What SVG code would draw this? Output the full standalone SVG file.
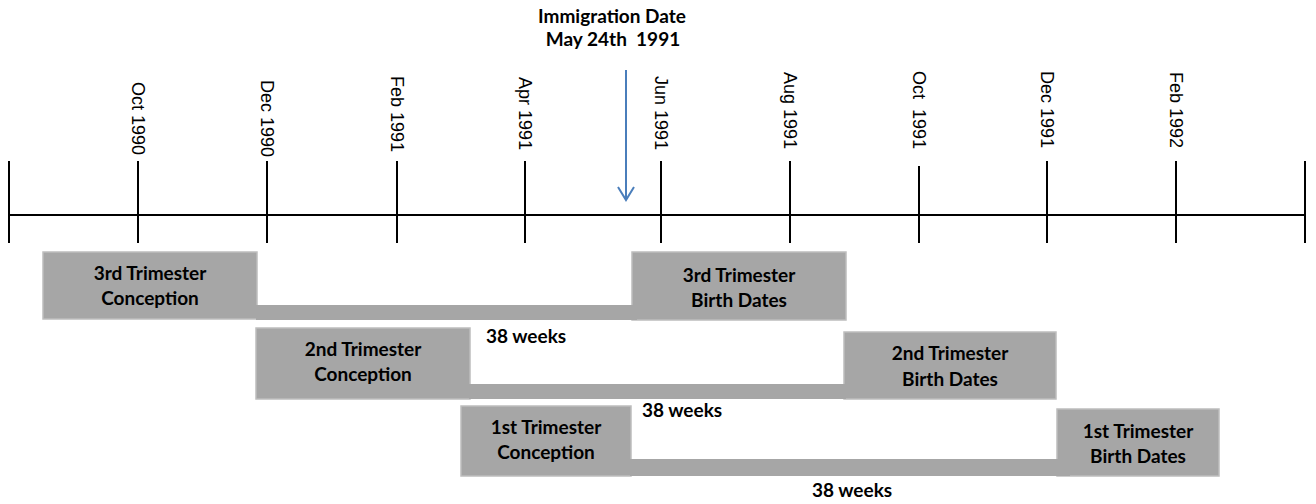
<svg xmlns="http://www.w3.org/2000/svg" width="1316" height="504" viewBox="0 0 1316 504">
<style>
  .axis { stroke: #000; stroke-width: 2; fill: none; }
  .tick { stroke: #000; stroke-width: 2; }
  .month { font-family: "Liberation Sans", Arial, sans-serif; font-size: 18px; fill: #000; }
  .box { fill: #A6A6A6; stroke: #BDBDBD; stroke-width: 1.5; }
  .bar { fill: #A6A6A6; stroke: none; }
  .lbl { font-family: Lato, "Liberation Sans", sans-serif; font-weight: bold; font-size: 19px; fill: #000; text-anchor: middle; }
  .wk { font-family: Lato, "Liberation Sans", sans-serif; font-weight: bold; font-size: 19px; fill: #000; }
  .arrow { stroke: #4A7EBB; stroke-width: 2; fill: none; }
</style>
<rect width="1316" height="504" fill="#fff"/>

<g id="timeline">
  <line class="axis" x1="9" y1="215" x2="1305" y2="215"/>
  <line class="tick" x1="9" y1="161" x2="9" y2="243"/>
  <line class="tick" x1="138" y1="161" x2="138" y2="243"/>
  <line class="tick" x1="267" y1="161" x2="267" y2="243"/>
  <line class="tick" x1="397" y1="161" x2="397" y2="243"/>
  <line class="tick" x1="525" y1="161" x2="525" y2="243"/>
  <line class="tick" x1="661" y1="161" x2="661" y2="243"/>
  <line class="tick" x1="790" y1="161" x2="790" y2="243"/>
  <line class="tick" x1="919" y1="166" x2="919" y2="243"/>
  <line class="tick" x1="1047" y1="161" x2="1047" y2="243"/>
  <line class="tick" x1="1176" y1="161" x2="1176" y2="243"/>
  <line class="tick" x1="1305" y1="161" x2="1305" y2="243"/>
</g>

<g id="month-labels">
  <text class="month" transform="translate(132,82) rotate(90)">Oct 1990</text>
  <text class="month" transform="translate(261,80) rotate(90)">Dec 1990</text>
  <text class="month" transform="translate(391,76) rotate(90)">Feb 1991</text>
  <text class="month" transform="translate(519,77) rotate(90)">Apr 1991</text>
  <text class="month" transform="translate(655,76) rotate(90)">Jun 1991</text>
  <text class="month" transform="translate(784,72) rotate(90)">Aug 1991</text>
  <text class="month" transform="translate(913,71) rotate(90)" xml:space="preserve">Oct  1991</text>
  <text class="month" transform="translate(1041,71) rotate(90)">Dec 1991</text>
  <text class="month" transform="translate(1170,72) rotate(90)">Feb 1992</text>
</g>

<g id="immigration">
  <text class="lbl" x="612" y="23">Immigration Date</text>
  <text class="lbl" x="613" y="46" xml:space="preserve">May 24th  1991</text>
</g>

<g id="node-3rd-conception">
  <rect class="box" x="43" y="252" width="214" height="67"/>
  <text class="lbl" x="150" y="280">3rd Trimester</text>
  <text class="lbl" x="150" y="305">Conception</text>
</g>
<g id="node-3rd-birth">
  <rect class="box" x="632" y="252" width="214" height="68"/>
  <text class="lbl" x="739" y="282">3rd Trimester</text>
  <text class="lbl" x="739" y="307">Birth Dates</text>
</g>
<g id="node-2nd-conception">
  <rect class="box" x="256" y="328" width="214" height="71"/>
  <text class="lbl" x="363" y="356">2nd Trimester</text>
  <text class="lbl" x="363" y="381">Conception</text>
</g>
<g id="node-2nd-birth">
  <rect class="box" x="844" y="332" width="212" height="67"/>
  <text class="lbl" x="950" y="360">2nd Trimester</text>
  <text class="lbl" x="950" y="386">Birth Dates</text>
</g>
<g id="node-1st-conception">
  <rect class="box" x="461" y="406" width="170" height="70"/>
  <text class="lbl" x="546" y="434">1st Trimester</text>
  <text class="lbl" x="546" y="459">Conception</text>
</g>
<g id="node-1st-birth">
  <rect class="box" x="1057" y="409" width="162" height="67"/>
  <text class="lbl" x="1138" y="438">1st Trimester</text>
  <text class="lbl" x="1138" y="463">Birth Dates</text>
</g>

<g id="connectors">
  <path class="arrow" d="M626 70 V200 M618 187 L626 200 L634 187"/>
  <rect class="bar" x="256" y="305" width="381" height="15"/>
  <rect class="bar" x="469" y="384" width="377" height="15"/>
  <rect class="bar" x="630" y="459" width="440" height="17"/>
  <text class="wk" x="486" y="343">38 weeks</text>
  <text class="wk" x="642" y="417">38 weeks</text>
  <text class="wk" x="812" y="497">38 weeks</text>
</g>
</svg>
